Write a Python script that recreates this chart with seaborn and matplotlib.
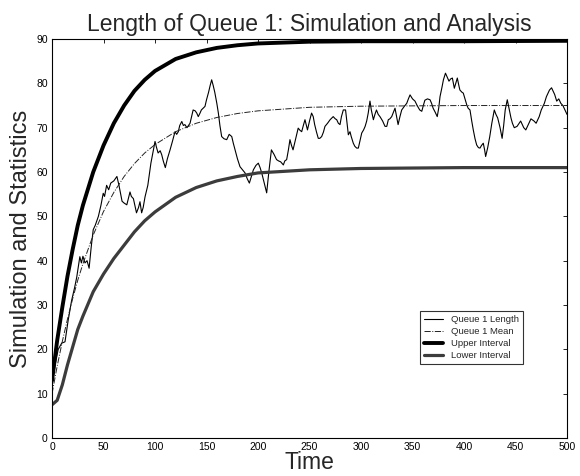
import matplotlib
matplotlib.use("Agg")
import matplotlib.pyplot as plt
import numpy as np
import pandas as pd
import seaborn as sns

# ---------------- data ----------------
sim_time = [0, 3, 6, 9.4, 12.6, 15.7, 19, 22, 24, 27, 28.5, 30, 32, 34, 36, 38, 40, 42, 45,
            47.5, 49.7, 51, 53, 55, 57, 60, 63, 65, 68, 70, 72.6, 75.7, 77, 79, 82, 84, 85.4,
            87, 88.5, 90.3, 93, 96, 98, 100, 101.5, 103, 105, 106.5, 108, 110, 112, 114.6,
            117, 119.4, 121, 122.6, 124, 126, 127.5, 129, 131, 134, 137, 139, 140.5, 142,
            143.7, 145, 148.5, 150, 152, 153.5, 155, 156.5, 158, 160, 161.5, 163, 164.7, 167,
            169.6, 172, 174.5, 176, 177.7, 180, 182.5, 185, 187.4, 189.5, 191.6, 193.5, 195.5,
            198, 200.3, 202, 203.6, 206, 208.4, 210.5, 213, 215.5, 218, 220, 222, 224.6, 226,
            227.8, 229.5, 231, 232.5, 234, 236.5, 239, 240.8, 242.4, 244, 245.6, 247, 248, 250,
            252, 253.6, 255, 256.8, 258.5, 260, 261.8, 263.5, 265, 267.5, 270, 273, 275, 276.4,
            278, 279.6, 281, 282.8, 285, 286.5, 287.7, 289.3, 290.5, 292.5, 294, 295.8, 297.4,
            299, 300.7, 302.5, 304, 305.5, 307, 308.7, 310, 312, 313.5, 315, 316.7, 318.4, 321,
            323.3, 325, 326.5, 328, 329.8, 331.5, 333, 334.5, 336, 337.8, 339.5, 342, 344.4,
            346, 347.6, 350, 352.4, 354.5, 357, 359, 360.5, 362, 364.5, 367, 368.5, 370, 372,
            374, 375.5, 376.7, 378.5, 380, 382, 383.5, 385.4, 387, 388.7, 390.6, 392, 393.5,
            395, 396, 398, 399.3, 401, 402.6, 404, 405.8, 407.5, 409, 410.7, 412.3, 414, 415.5,
            417, 418.7, 420, 421, 423, 425, 427, 429.4, 431, 432.7, 435, 437, 438.5, 440, 442,
            444, 445.6, 447, 448.8, 451.5, 455, 458, 460, 463, 465, 468, 470, 473, 475, 478,
            480, 483, 485, 488, 490, 492, 494, 496, 498, 500]
sim_length = [11.5, 16.5, 20, 21.4, 21.7, 26.6, 31, 34, 36.3, 40.9, 39.5, 41, 39.5, 40, 38.3, 43,
              47, 48, 50, 52.5, 55.2, 54.5, 57, 56, 57.5, 58, 59, 57, 53.4, 53, 52.6, 55.5,
              54.5, 54, 50.8, 52, 53.3, 50.8, 52, 54.4, 57, 62, 64.5, 66.9, 65.5, 64.3, 64.8,
              63.9, 62.5, 61, 63, 65, 67, 69.1, 68.5, 69.1, 70.5, 71.4, 70.5, 70.7, 70, 71, 74,
              73.8, 73.3, 72.5, 73.3, 74, 74.8, 76.3, 78, 79.5, 80.8, 79.5, 78, 75.5, 73.3, 70.5,
              68, 67.5, 67.3, 68.5, 68, 66.5, 65, 63, 61.2, 60.5, 59.8, 58.5, 57.5, 59, 60.5,
              61.5, 62, 61, 59.8, 57.5, 55.3, 60, 65, 64, 62.8, 62.5, 62.3, 61.6, 62.5, 62.8, 65,
              67.3, 66, 65, 67.5, 69.9, 69.4, 69.1, 70.5, 71.8, 70.5, 69.5, 71.5, 73.3, 72.5,
              70.7, 69, 67.6, 67.6, 68, 69, 70.3, 71, 71.8, 72.5, 72, 71.8, 71, 70.7, 72.5, 74,
              74, 71, 68.4, 69.1, 68, 66.5, 65.8, 65.4, 65.4, 67, 68.8, 69.5, 70.3, 71.5, 73.3,
              76, 74, 71.8, 73, 74, 73, 72.5, 71.5, 70.3, 70.3, 71.8, 72, 72.5, 73.5, 74.4, 72.5,
              70.7, 72.5, 74, 74.8, 75.5, 76.5, 77.4, 76.5, 76, 75, 74, 73.7, 75, 76.2, 76.5,
              76.3, 75.5, 74.4, 73.5, 72.5, 74.5, 77, 79, 80.8, 82.3, 81.5, 80.5, 81, 81.2, 78.9,
              80, 81.2, 79.5, 78.5, 78, 77.8, 76.5, 75.2, 74.4, 74, 71.5, 69.5, 67.5, 66.1, 65.5,
              65.4, 66, 66.5, 65, 63.5, 65.5, 68, 71, 74, 73, 72.2, 70, 67.6, 70.5, 74, 76.3, 74,
              72.2, 71, 70, 70.3, 71.5, 70, 69.5, 71, 72, 71.5, 71, 72.5, 74, 75.5, 77, 78.5, 79,
              77.5, 76, 76.5, 75.5, 75, 74, 73]

mean_time = [0, 5, 10, 15, 20, 25, 30, 40, 50, 60, 70, 80, 90, 100, 120, 140, 160, 180, 200,
             250, 300, 400, 500]
mean_length = [10.0, 16.2, 21.8, 26.8, 31.4, 35.6, 39.3, 45.8, 51.1, 55.4, 59.0, 61.9, 64.3,
               66.2, 69.1, 71.0, 72.3, 73.2, 73.8, 74.6, 74.85, 75.0, 75.0]

upper_time = [0, 5, 10, 15, 20, 25, 30, 40, 50, 60, 70, 80, 90, 100, 120, 140, 160, 180, 200,
              250, 300, 400, 500]
upper_length = [13.0, 22.0, 29.5, 36.5, 42.5, 48.0, 52.5, 60.0, 66.0, 71.0, 75.0, 78.3, 80.8,
                82.8, 85.5, 87.0, 88.0, 88.6, 89.0, 89.4, 89.5, 89.5, 89.6]

lower_time = [0, 5, 10, 15, 20, 25, 30, 40, 50, 60, 70, 80, 90, 100, 120, 140, 160, 180, 200,
              250, 300, 400, 500]
lower_length = [7.5, 8.5, 12.0, 16.5, 20.5, 24.5, 27.5, 33.0, 37.0, 40.5, 43.5, 46.5, 49.0,
                51.0, 54.3, 56.5, 58.0, 59.0, 59.8, 60.5, 60.8, 61.0, 61.0]

x_ticks = [0, 50, 100, 150, 200, 250, 300, 350, 400, 450, 500]
y_ticks = [0, 10, 20, 30, 40, 50, 60, 70, 80, 90]

# ---------------- plot ----------------
sns.set_theme(style="white")
plt.rcParams["font.family"] = ["Liberation Sans", "DejaVu Sans"]

fig = plt.figure(figsize=(5.8, 4.76), dpi=100)
ax = fig.add_axes([0.0897, 0.0798, 0.8879, 0.8382])

sim_df = pd.DataFrame({"Time": sim_time, "Value": sim_length})
mean_df = pd.DataFrame({"Time": mean_time, "Value": mean_length})
upper_df = pd.DataFrame({"Time": upper_time, "Value": upper_length})
lower_df = pd.DataFrame({"Time": lower_time, "Value": lower_length})

sns.lineplot(data=sim_df, x="Time", y="Value", ax=ax, color="black", linewidth=0.8,
             label="Queue 1 Length")
sns.lineplot(data=mean_df, x="Time", y="Value", ax=ax, color="#222222", linewidth=0.7,
             linestyle="-.", label="Queue 1 Mean")
sns.lineplot(data=upper_df, x="Time", y="Value", ax=ax, color="black", linewidth=2.8,
             label="Upper Interval")
sns.lineplot(data=lower_df, x="Time", y="Value", ax=ax, color="#3c3c3c", linewidth=2.3,
             label="Lower Interval")

ax.set_xlim(0, 500)
ax.set_ylim(0, 90)
ax.set_xticks(x_ticks)
ax.set_yticks(y_ticks)
ax.tick_params(direction="in", top=True, right=True, length=3, width=0.6,
               labelsize=7.5, colors="black", pad=3)
for s in ax.spines.values():
    s.set_color("black")
    s.set_linewidth(0.8)

ax.set_title("Length of Queue 1: Simulation and Analysis", fontsize=16.5, pad=6)
ax.set_xlabel("Time", fontsize=16.5, labelpad=-1)
ax.set_ylabel("Simulation and Statistics", fontsize=17, labelpad=3)

leg = ax.legend(loc="upper left", bbox_to_anchor=(0.705, 0.33), fontsize=6.8,
                frameon=True, fancybox=False, edgecolor="black", handlelength=2.0,
                borderpad=0.45, labelspacing=0.3)
leg.get_frame().set_linewidth(0.8)

fig.savefig("out.png", dpi=100)
